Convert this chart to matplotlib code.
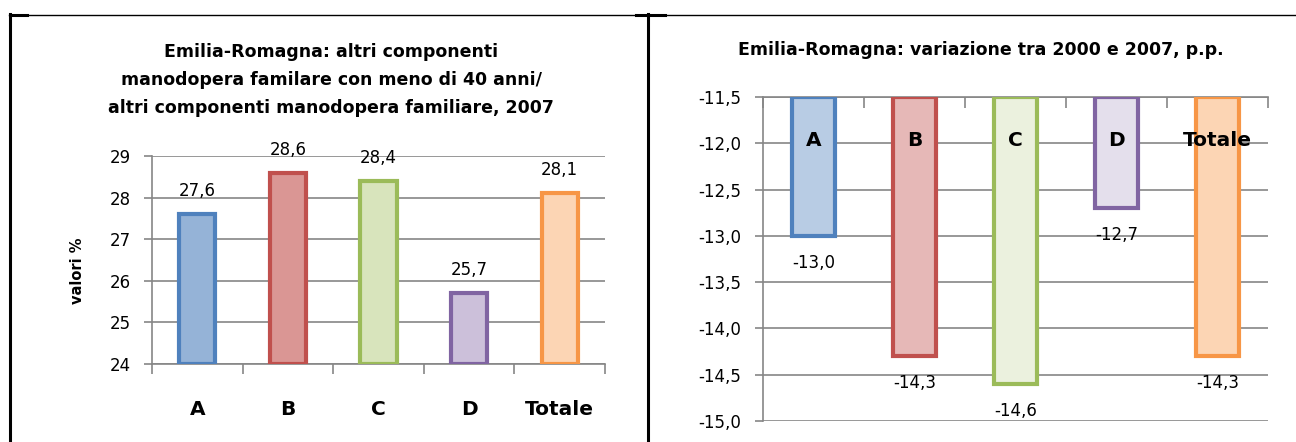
"""Emilia-Romagna: family labour force under 40, share 2007 and change 2000-2007."""

import matplotlib

matplotlib.use("Agg")

import matplotlib.pyplot as plt
from matplotlib.lines import Line2D

plt.rcParams["font.family"] = ["DejaVu Sans"]

categories = ["A", "B", "C", "D", "Totale"]
share_2007 = [27.6, 28.6, 28.4, 25.7, 28.1]
change_2000_2007 = [-13.0, -14.3, -14.6, -12.7, -14.3]

left_ticks = [24, 25, 26, 27, 28, 29]
right_ticks = [-15.0, -14.5, -14.0, -13.5, -13.0, -12.5, -12.0, -11.5]

edge_colors = ["#4F81BD", "#C0504D", "#9BBB59", "#8064A2", "#F79646"]
left_fills = ["#95B3D7", "#DA9694", "#D8E4BC", "#CCC0DA", "#FCD5B4"]
right_fills = ["#B8CCE4", "#E6B8B7", "#EBF1DE", "#E4DFEC", "#FCD5B4"]

GRID = "#868686"
W, H = 1296, 442


def comma(v, fmt="{:.1f}"):
    return fmt.format(v).replace(".", ",")


fig = plt.figure(figsize=(W / 100, H / 100), dpi=100)


# outer frame (top line and two verticals), pixel coords from the top-left
def fig_line(x0, y0, x1, y1, lw):
    fig.add_artist(Line2D([x0 / W, x1 / W], [1 - y0 / H, 1 - y1 / H],
                          color="black", lw=lw, transform=fig.transFigure))


fig_line(9, 14.5, W, 14.5, 1.0)
fig_line(10, 14, 10, H, 2.2)
fig_line(648, 14, 648, H, 2.2)
fig_line(10, 15, 27, 15, 2.2)
fig_line(636, 15, 665, 15, 2.2)

# ---------------- left chart ----------------
ax1 = fig.add_axes([152 / W, 1 - 364 / H, 453 / W, 208 / H])
x = list(range(len(categories)))
ax1.bar(x, [v - 24 for v in share_2007], bottom=24, width=0.40,
        color=left_fills, edgecolor=edge_colors, linewidth=3, zorder=3)
ax1.set_xlim(-0.5, 4.5)
ax1.set_ylim(24, 29)
ax1.set_yticks(left_ticks)
ax1.set_yticklabels([str(t) for t in left_ticks], fontsize=12)
ax1.set_xticks(x)
ax1.set_xticklabels(categories, fontsize=14.5, fontweight="bold")
ax1.set_xticks([i - 0.5 for i in range(len(categories) + 1)], minor=True)
ax1.tick_params(axis="x", which="major", length=0, pad=26)
ax1.tick_params(axis="x", which="minor", length=7, width=1.2, color=GRID)
ax1.tick_params(axis="y", length=6, width=1.2, color=GRID, pad=9)
ax1.grid(axis="y", color=GRID, lw=1.2, zorder=0)
for side in ["top", "right"]:
    ax1.spines[side].set_visible(False)
for side in ["left", "bottom"]:
    ax1.spines[side].set_color(GRID)
    ax1.spines[side].set_linewidth(1.2)
for xi, v in zip(x, share_2007):
    ax1.annotate(comma(v), (xi, v), xytext=(0, 23), textcoords="offset pixels",
                 ha="center", va="center", fontsize=12)
fig.text(77 / W, 1 - 271 / H, "valori %", rotation=90, ha="center",
         va="center", fontsize=10.5, fontweight="bold")
fig.text(331 / W, 1 - 80 / H,
         "Emilia-Romagna: altri componenti\n"
         "manodopera familare con meno di 40 anni/\n"
         "altri componenti manodopera familiare, 2007",
         ha="center", va="center", fontsize=12.5, fontweight="bold",
         linespacing=1.72)

# ---------------- right chart ----------------
ax2 = fig.add_axes([763 / W, 1 - 421 / H, 505 / W, 324 / H])
ax2.bar(x, [v + 11.5 for v in change_2000_2007], bottom=-11.5, width=0.42,
        color=right_fills, edgecolor=edge_colors, linewidth=3, zorder=3)
ax2.set_xlim(-0.5, 4.5)
ax2.set_ylim(-15, -11.5)
ax2.set_yticks(right_ticks)
ax2.set_yticklabels([comma(t) for t in right_ticks], fontsize=12)
ax2.set_xticks([])
ax2.set_xticks([i - 0.5 for i in range(len(categories) + 1)], minor=True)
ax2.tick_params(axis="x", which="minor", direction="in", length=8, width=1.2,
                color=GRID, top=True, bottom=False)
ax2.tick_params(axis="y", length=6, width=1.2, color=GRID, pad=10)
ax2.grid(axis="y", color=GRID, lw=1.2, zorder=0)
for side in ["bottom", "right"]:
    ax2.spines[side].set_visible(False)
for side in ["left", "top"]:
    ax2.spines[side].set_color(GRID)
    ax2.spines[side].set_linewidth(1.2)
for xi, (cat, v) in enumerate(zip(categories, change_2000_2007)):
    ax2.text(xi, -11.97, cat, ha="center", va="center", fontsize=14.5,
             fontweight="bold", zorder=4)
    ax2.annotate(comma(v), (xi, v), xytext=(0, -27), textcoords="offset pixels",
                 ha="center", va="center", fontsize=12, zorder=4)
fig.text(981 / W, 1 - 50 / H, "Emilia-Romagna: variazione tra 2000 e 2007, p.p.",
         ha="center", va="center", fontsize=12.5, fontweight="bold")

fig.savefig("out.png", dpi=100)
